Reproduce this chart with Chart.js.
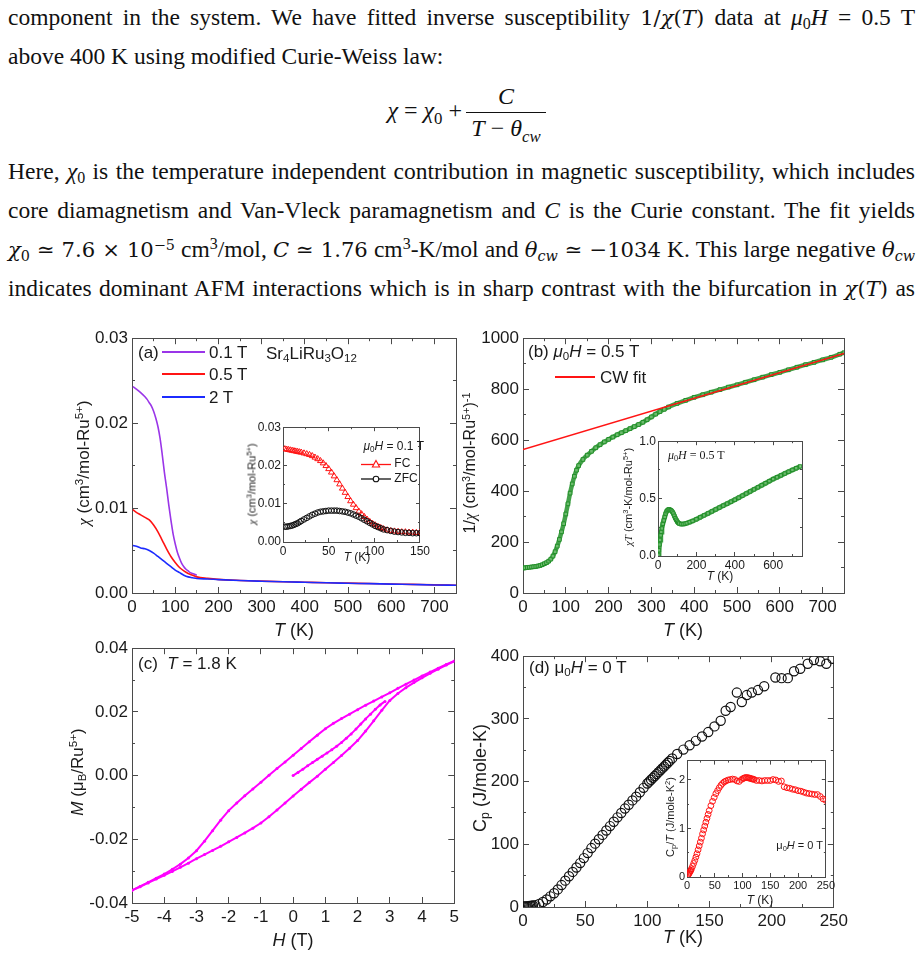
<!DOCTYPE html>
<html>
<head>
<meta charset="utf-8">
<script src="https://cdn.jsdelivr.net/npm/chart.js@4.4.0/dist/chart.umd.min.js"></script>
<style>
body { margin: 0; background: #fff; width: 922px; height: 954px; position: relative; overflow: hidden; color: #222; font-family: "Liberation Sans", Arial, sans-serif; }
.tx { position: absolute; left: 8px; width: 907px; height: 28px; font-family: "Liberation Serif", "Times New Roman", serif; font-size: 23.5px; line-height: 28px; white-space: nowrap; text-align: justify; text-align-last: justify; color: #111; }
.tx.l { text-align: left; text-align-last: left; }
.cm { font-family: "DejaVu Serif", serif; font-size: 0.9em; }
.tx sup, .lb sup { font-size: 0.68em; vertical-align: 0.5em; line-height: 0; }
.tx sub, .lb sub { font-size: 0.68em; vertical-align: -0.28em; line-height: 0; }
.eq { position: absolute; font-family: "Liberation Serif", serif; font-size: 24px; line-height: 1; color: #111; white-space: nowrap; }
canvas { position: absolute; }
.lb { position: absolute; white-space: nowrap; line-height: 1; color: #1a1a1a; }
.seg { position: absolute; }
.serif { font-family: "Liberation Serif", serif; }
</style>
</head>
<body>
<div class="tx" style="top:3px">component in the system. We have fitted inverse susceptibility <span class="cm">1/<i>χ</i>(<i>T</i>)</span> data at <i>μ</i><sub>0</sub><i>H</i> = 0.5 T</div>
<div class="tx l" style="top:42px">above 400 K using modified Curie-Weiss law:</div>
<div class="eq" style="left:462px;top:113px;transform:translate(-100%,-50%)"><i>χ</i> = <i>χ</i><sub style="font-size:0.7em">0</sub> + </div>
<div class="eq" style="left:506px;top:96px;transform:translate(-50%,-50%)"><i>C</i></div>
<div style="position:absolute;left:466px;top:112px;width:80px;border-top:1.4px solid #111"></div>
<div class="eq" style="left:506px;top:131px;transform:translate(-50%,-50%)"><i>T</i> − <i>θ</i><sub style="font-size:0.7em"><i>cw</i></sub></div>
<div class="tx" style="top:157px">Here, <i>χ</i><sub>0</sub> is the temperature independent contribution in magnetic susceptibility, which includes</div>
<div class="tx" style="top:196px">core diamagnetism and Van-Vleck paramagnetism and <i>C</i> is the Curie constant. The fit yields</div>
<div class="tx" style="top:235px"><span class="cm"><i>χ</i><sub>0</sub> ≃ 7.6 × 10<sup>−5</sup></span> cm<sup>3</sup>/mol, <span class="cm"><i>C</i> ≃ 1.76</span> cm<sup>3</sup>-K/mol and <span class="cm"><i>θ</i><sub><i>cw</i></sub> ≃ −1034</span> K. This large negative <span class="cm"><i>θ</i><sub><i>cw</i></sub></span></div>
<div class="tx" style="top:274px">indicates dominant AFM interactions which is in sharp contrast with the bifurcation in <span class="cm"><i>χ</i>(<i>T</i>)</span> as</div>

<script>
// (a) chi(T) at 0.1 T, 0.5 T, 2 T
const tA01 = [2,10,20,30,35,40,45,50,55,60,65,70,75,80,85,90,95,100,105,110,115,120,125,130,135,140,145,150];
const chiA01 = [0.0243,0.0240,0.0236,0.0231,0.0228,0.0224,0.0220,0.0214,0.0206,0.0196,0.0182,0.0163,0.0142,0.0124,0.0104,0.0086,0.0070,0.0058,0.0048,0.0041,0.0035,0.0031,0.0028,0.0026,0.0024,0.0023,0.0022,0.0021];
const tA05 = [2,10,20,30,40,50,60,70,80,90,100,110,120,130,140,150,175,200,250,300,350,400,450,500,550,600,650,700,750];
const chiA05 = [0.0098,0.0095,0.0092,0.0089,0.0086,0.0080,0.0072,0.0062,0.0052,0.0043,0.0036,0.0030,0.0026,0.0023,0.0021,0.0019,0.00172,0.00160,0.00148,0.00140,0.00133,0.00127,0.00121,0.00116,0.00111,0.00106,0.00101,0.00096,0.00092];
const tA2 = [2,10,20,30,40,50,60,70,80,90,100,110,120,130,140,150,175,200,250,300,350,400,450,500,550,600,650,700,750];
const chiA2 = [0.0056,0.0055,0.0053,0.0052,0.0050,0.0047,0.0043,0.0039,0.0035,0.0031,0.0027,0.0024,0.0021,0.0019,0.0018,0.0017,0.00165,0.00158,0.00147,0.00139,0.00132,0.00126,0.00120,0.00115,0.00110,0.00105,0.00100,0.00095,0.00091];

// (a) inset: FC / ZFC at 0.1 T
const tInA = [2,4,6,8,10,12,14,16,18,20,23,26,29,32,35,38,41,44,47,50,53,56,59,62,65,68,71,74,77,80,83,86,89,92,95,98,101,104,107,110,114,118,122,126,130,134,138,142,146,150];
const fcA = [0.0243,0.0242,0.0241,0.0240,0.0239,0.0238,0.0237,0.0236,0.0235,0.0234,0.0232,0.0230,0.0228,0.0225,0.0221,0.0217,0.0212,0.0206,0.0199,0.0191,0.0182,0.0172,0.0162,0.0151,0.0140,0.0129,0.0118,0.0107,0.0098,0.0089,0.0080,0.0073,0.0066,0.0059,0.0053,0.0048,0.0044,0.0040,0.0037,0.0034,0.0031,0.0029,0.0028,0.0027,0.0026,0.0026,0.0025,0.0025,0.0024,0.0024];
const zfcA = [0.0040,0.0040,0.0041,0.0042,0.0043,0.0045,0.0047,0.0049,0.0052,0.0055,0.0059,0.0063,0.0067,0.0071,0.0074,0.0077,0.0079,0.0080,0.0081,0.0082,0.0082,0.0082,0.0082,0.0081,0.0080,0.0079,0.0077,0.0075,0.0072,0.0069,0.0066,0.0062,0.0058,0.0054,0.0050,0.0046,0.0042,0.0039,0.0036,0.0033,0.0031,0.0029,0.0027,0.0026,0.0025,0.0024,0.0024,0.0023,0.0023,0.0023];

// (b) 1/chi at 0.5 T and Curie-Weiss fit
const tB = [2,5,10,15,20,25,30,35,40,45,50,55,60,65,70,75,80,85,90,95,100,105,110,115,120,125,130,140,150,160,170,180,190,200,210,220,230,240,250,260,270,280,290,300,310,320,330,340,360,380,400,420,440,460,480,500,520,540,560,580,600,620,640,660,680,700,720,740,750];
const invB = [98,99,100,101,102,103,104,106,108,111,115,119,125,133,145,162,184,210,240,272,310,350,392,428,458,482,500,524,541,556,570,582,593,603,612,621,629,637,645,653,661,670,680,691,702,712,721,730,744,756,768,778,788,798,808,817,827,837,847,857,866,876,886,896,905,915,925,937,943];
const tCW = [0, 750];
const invCW = [563, 940];

// (b) inset: chi*T
const tBi = [2,5,8,11,14,17,20,25,30,35,40,45,50,55,60,65,70,75,80,85,90,95,100,105,110,120,130,140,150,165,180,200,220,240,260,280,300,320,340,360,380,400,420,440,460,480,500,520,540,560,580,600,620,640,660,680,700,720,740];
const chiTBi = [0.01,0.05,0.10,0.14,0.18,0.21,0.24,0.28,0.31,0.34,0.37,0.39,0.40,0.405,0.405,0.40,0.395,0.385,0.37,0.35,0.33,0.315,0.30,0.29,0.283,0.278,0.278,0.281,0.286,0.295,0.305,0.32,0.337,0.354,0.371,0.388,0.405,0.422,0.439,0.456,0.473,0.49,0.508,0.526,0.544,0.562,0.58,0.598,0.616,0.634,0.652,0.67,0.686,0.702,0.718,0.734,0.75,0.765,0.78];

// (c) M(H) at 1.8 K
const hUp = [5,4.75,4.5,4.25,4,3.75,3.5,3.25,3,2.75,2.5,2.25,2,1.75,1.5,1.25,1,0.75,0.5,0.25,0,-0.25,-0.5,-0.75,-1,-1.25,-1.5,-1.75,-2,-2.25,-2.5,-2.75,-3,-3.25,-3.5,-3.75,-4,-4.25,-4.5,-4.75,-5];
const mUp = [0.0360,0.0349,0.0337,0.0325,0.0313,0.0300,0.0287,0.0274,0.0260,0.0247,0.0234,0.0221,0.0207,0.0193,0.0179,0.0164,0.0147,0.0127,0.0106,0.0085,0.0064,0.0043,0.0022,0.0001,-0.0021,-0.0042,-0.0063,-0.0086,-0.0110,-0.0140,-0.0173,-0.0206,-0.0236,-0.0259,-0.0278,-0.0294,-0.0309,-0.0322,-0.0335,-0.0348,-0.0360];
const hLo = [-5,-4.75,-4.5,-4.25,-4,-3.75,-3.5,-3.25,-3,-2.75,-2.5,-2.25,-2,-1.75,-1.5,-1.25,-1,-0.75,-0.5,-0.25,0,0.25,0.5,0.75,1,1.25,1.5,1.75,2,2.25,2.5,2.75,3,3.25,3.5,3.75,4,4.25,4.5,4.75,5];
const mLo = [-0.0360,-0.0349,-0.0337,-0.0325,-0.0313,-0.0301,-0.0288,-0.0275,-0.0261,-0.0248,-0.0235,-0.0222,-0.0208,-0.0194,-0.0180,-0.0165,-0.0149,-0.0129,-0.0108,-0.0086,-0.0064,-0.0043,-0.0022,-0.0002,0.0020,0.0041,0.0063,0.0086,0.0110,0.0140,0.0172,0.0205,0.0236,0.0258,0.0276,0.0292,0.0307,0.0321,0.0334,0.0347,0.0359];
const hVir = [0,0.15,0.3,0.45,0.6,0.75,0.9,1.05,1.2,1.35,1.5,1.65,1.8,1.95,2.1,2.25,2.4,2.55,2.7,2.85];
const mVir = [0,0.0010,0.0020,0.0031,0.0041,0.0051,0.0061,0.0071,0.0081,0.0092,0.0104,0.0117,0.0131,0.0146,0.0162,0.0178,0.0193,0.0208,0.0222,0.0233];

// (d) Cp(T) at 0 T
const tD = [1,2,3,4,5,6,7,8,10,13,16,19,22,25,28,31,34,37,40,43,46,49,52,55,58,61,64,67,70,73,76,79,82,85,88,91,94,97,100,101.5,103,104.5,106,107.5,109,110.5,112,113.5,115,116.5,118,120,124,129,134,139,144,149,154,159,163,167,172,176,180,184,189,194,203,208,213,218,223,229,234,239,244,249];
const cpD = [1,1,1,1,1.5,1.5,2,2.5,3,5,8,12,17,22,28,35,42,49,56,63,70,78,86,94,101,108,115,122,129,136,143,150,157,163,170,176,183,190,197,200,203,206,209,212,215,218,221,224,227,230,233,237,244,251,258,265,272,279,288,297,313,319,342,327,338,342,346,352,366,365,365,376,380,388,394,392,388,396];

// (d) inset: Cp/T
const tDi = [2,3,4,5,6,7,8,10,12,14,16,18,20,22,24,26,28,30,32,34,36,38,40,43,46,49,52,55,58,61,64,67,70,74,78,82,86,90,94,98,101,103,105,107,109,111,113,115,117,119,121,125,130,135,140,145,150,155,160,165,170,175,180,185,190,195,200,205,210,215,220,225,230,235,240,245,250];
const cpTDi = [0.04,0.06,0.08,0.10,0.12,0.14,0.17,0.22,0.28,0.34,0.41,0.48,0.56,0.64,0.72,0.80,0.89,0.97,1.05,1.13,1.21,1.29,1.37,1.47,1.56,1.64,1.72,1.78,1.84,1.89,1.93,1.96,1.98,2.00,2.01,2.02,2.01,1.98,1.97,2.01,2.03,2.04,2.05,2.05,2.05,2.04,2.04,2.03,2.02,2.02,2.01,1.99,1.99,1.98,1.99,1.99,1.99,2.01,2.00,1.97,1.98,1.86,1.84,1.83,1.81,1.80,1.78,1.77,1.75,1.73,1.72,1.71,1.70,1.70,1.66,1.61,1.58];

const PURPLE = '#9a35e8', RED = '#ff1414', BLUE = '#1c2bff', GREEN = '#23902a', MAGENTA = '#ff00ff';
const FRAME = '#4a4a4a', INK = '#1a1a1a';
const SANS = '"Liberation Sans", Arial, sans-serif';

function pts(xs, ys) { return xs.map((x, i) => ({x: x, y: ys[i]})); }

function axis(pos, min, max, step, len, o) {
  const horiz = pos === 'bottom' || pos === 'top';
  return {
    type: 'linear', position: pos, min: min, max: max, weight: o.fmt ? 0 : -1,
    grid: {drawOnChartArea: false, drawTicks: true, tickLength: -len, tickColor: FRAME, tickWidth: 1},
    border: {display: true, color: FRAME, width: 1},
    ticks: {
      display: !!o.fmt, stepSize: step, includeBounds: false, autoSkip: false,
      maxRotation: 0, minRotation: 0, padding: len + (o.gap || 3),
      color: INK, font: {family: SANS, size: o.size || 12},
      callback: o.fmt || (v => v)
    },
    afterFit: s => { if (horiz) s.height = o.room || 0; else s.width = o.room || 0; }
  };
}

function frameScales(xr, yr, st) {
  const s = {};
  s.x = axis('bottom', xr.min, xr.max, xr.major, st.major, {fmt: xr.fmt, size: st.size, room: st.mb, gap: st.gap});
  s.y = axis('left', yr.min, yr.max, yr.major, st.major, {fmt: yr.fmt, size: st.size, room: st.ml, gap: st.gap});
  s.xt = axis('top', xr.min, xr.max, xr.major, st.major, {});
  s.yr = axis('right', yr.min, yr.max, yr.major, st.major, {});
  if (xr.minor) {
    s.xm = axis('bottom', xr.min, xr.max, xr.minor, st.minor, {});
    s.xtm = axis('top', xr.min, xr.max, xr.minor, st.minor, {});
  }
  if (yr.minor) {
    s.ym = axis('left', yr.min, yr.max, yr.minor, st.minor, {});
    s.yrm = axis('right', yr.min, yr.max, yr.minor, st.minor, {});
  }
  return s;
}

const whiteArea = {
  id: 'whiteArea',
  beforeDraw(ch) {
    const a = ch.chartArea, ctx = ch.ctx;
    ctx.save(); ctx.fillStyle = '#fff';
    ctx.fillRect(a.left, a.top, a.right - a.left, a.bottom - a.top);
    ctx.restore();
  }
};

// area = [left, top, width, height] of the plot box; m = [left, top, right, bottom] room around it
function plot(area, m, scales, datasets, inset) {
  const c = document.createElement('canvas');
  document.body.appendChild(c);
  const w = area[2] + m[0] + m[2], h = area[3] + m[1] + m[3];
  c.width = w; c.height = h;
  c.style.left = (area[0] - m[0]) + 'px'; c.style.top = (area[1] - m[1]) + 'px';
  c.style.width = w + 'px'; c.style.height = h + 'px';
  datasets.forEach(d => { d.xAxisID = 'x'; d.yAxisID = 'y'; });
  return new Chart(c, {
    type: 'scatter',
    data: {datasets: datasets},
    options: {
      responsive: false, animation: false, devicePixelRatio: 1, events: [],
      layout: {padding: {left: 0, top: m[1], right: m[2], bottom: 0}},
      plugins: {legend: {display: false}, tooltip: {enabled: false}},
      scales: scales
    },
    plugins: inset ? [whiteArea] : []
  });
}

const MAIN = {major: 6, minor: 3, size: 17, gap: 4, ml: 52, mb: 36};
const INS = {major: 4, minor: 2, size: 12, gap: 2, ml: 32, mb: 20};
const INSD = {major: 4, minor: 2, size: 11, gap: 2, ml: 28, mb: 18};
const f2 = v => v.toFixed(2), f1 = v => v.toFixed(1), f0 = v => String(Math.round(v));

const curve = (xs, ys, col) => ({data: pts(xs, ys), showLine: true, borderColor: col, borderWidth: 1.6,
  pointRadius: 0, cubicInterpolationMode: 'monotone'});

// (a)
plot([132, 332, 324, 261], [52, 14, 14, 36],
  frameScales({min: 0, max: 750, major: 100, minor: 50, fmt: f0},
              {min: 0, max: 0.03, major: 0.01, minor: 0.005, fmt: f2}, MAIN),
  [curve(tA2, chiA2, BLUE), curve(tA05, chiA05, RED), curve(tA01, chiA01, PURPLE)]);

// (a) inset
plot([283, 424, 143, 118], [32, 10, 10, 20],
  frameScales({min: 0, max: 150, major: 50, minor: 25, fmt: f0},
              {min: 0, max: 0.03, major: 0.01, minor: 0.005, fmt: f2}, INS),
  [{data: pts(tInA, zfcA), pointStyle: 'circle', pointRadius: 2.8, pointBorderWidth: 1,
    pointBorderColor: '#111', pointBackgroundColor: 'rgba(255,255,255,0)'},
   {data: pts(tInA, fcA), pointStyle: 'triangle', pointRadius: 3.4, pointBorderWidth: 1,
    pointBorderColor: RED, pointBackgroundColor: 'rgba(255,255,255,0)'}], true);

// (b)
plot([523, 332, 321, 261], [52, 14, 14, 36],
  frameScales({min: 0, max: 750, major: 100, minor: 50, fmt: f0},
              {min: 0, max: 1000, major: 200, minor: 100, fmt: f0}, MAIN),
  [{data: pts(tCW, invCW), showLine: true, borderColor: RED, borderWidth: 1.5, pointRadius: 0},
   {data: pts(tB, invB), showLine: true, borderColor: 'rgba(35,144,42,0.85)', borderWidth: 4.5, cubicInterpolationMode: 'monotone',
    pointStyle: 'rect', pointRadius: 2.6, pointBorderWidth: 1, pointBorderColor: GREEN,
    pointBackgroundColor: 'rgba(120,195,120,0.8)'}]);

// (b) inset
plot([658, 438, 144, 118], [32, 10, 10, 20],
  frameScales({min: 0, max: 750, major: 200, minor: 100, fmt: f0},
              {min: 0, max: 1.0, major: 0.5, minor: 0.25, fmt: f1}, INS),
  [{data: pts(tBi, chiTBi), showLine: true, borderColor: 'rgba(35,144,42,0.85)', borderWidth: 5,
    pointStyle: 'rect', pointRadius: 2.4, pointBorderWidth: 1, pointBorderColor: GREEN,
    pointBackgroundColor: 'rgba(120,195,120,0.8)'}], true);

// (c)
const loop = (xs, ys) => ({data: pts(xs, ys), showLine: true, borderColor: MAGENTA, borderWidth: 2,
  pointRadius: 1.5, pointBorderWidth: 0, pointBackgroundColor: MAGENTA});
plot([132, 642, 323, 261], [52, 14, 14, 36],
  frameScales({min: -5, max: 5, major: 1, fmt: f0},
              {min: -0.04, max: 0.04, major: 0.02, minor: 0.01, fmt: f2}, MAIN),
  [loop(hUp, mUp), loop(hLo, mLo), loop(hVir, mVir)]);

// (d)
plot([523, 650, 321, 257], [52, 14, 14, 36],
  frameScales({min: 0, max: 250, major: 50, minor: 25, fmt: f0},
              {min: 0, max: 400, major: 100, minor: 50, fmt: f0}, MAIN),
  [{data: pts(tD, cpD), pointStyle: 'circle', pointRadius: 4.6, pointBorderWidth: 1.2,
    pointBorderColor: '#111', pointBackgroundColor: 'rgba(255,255,255,0)'}]);

// (d) inset
plot([687, 758, 144, 119], [28, 10, 10, 18],
  frameScales({min: 0, max: 250, major: 50, minor: 25, fmt: f0},
              {min: 0, max: 2.4, major: 1, minor: 0.5, fmt: f0}, INSD),
  [{data: pts(tDi, cpTDi), pointStyle: 'circle', pointRadius: 2.9, pointBorderWidth: 1,
    pointBorderColor: RED, pointBackgroundColor: 'rgba(255,255,255,0)'}], true);

// text labels, legends and axis titles
function lab(html, x, y, size, anchor, cls) {
  const d = document.createElement('div');
  d.className = 'lb' + (cls ? ' ' + cls : '');
  d.innerHTML = html;
  d.style.left = x + 'px'; d.style.top = y + 'px'; d.style.fontSize = size + 'px';
  const tx = anchor === 'c' ? '-50%' : anchor === 'r' ? '-100%' : '0';
  d.style.transform = anchor === 'rot' ? 'translate(-50%,-50%) rotate(-90deg)' : 'translate(' + tx + ',-50%)';
  document.body.appendChild(d);
}
function seg(x1, x2, y, col, w) {
  const d = document.createElement('div');
  const h = w || 2;
  d.className = 'seg';
  d.style.left = x1 + 'px'; d.style.top = (y - h / 2) + 'px';
  d.style.width = (x2 - x1) + 'px'; d.style.height = h + 'px';
  d.style.background = col;
  document.body.appendChild(d);
}
const chi = '<span class="serif"><i>χ</i></span>';
const mu0H = '<i>μ</i><sub>0</sub><i>H</i>';

// (a)
lab('(a)', 138, 352, 17, 'l');
seg(162, 205, 352, PURPLE); lab('0.1 T', 209, 352, 17, 'l');
lab('Sr<sub>4</sub>LiRu<sub>3</sub>O<sub>12</sub>', 266, 353, 17, 'l');
seg(162, 205, 374, RED); lab('0.5 T', 209, 374, 17, 'l');
seg(162, 205, 397, BLUE); lab('2 T', 209, 397, 17, 'l');
lab(chi + ' (cm<sup>3</sup>/mol-Ru<sup>5+</sup>)', 83, 463, 17, 'rot');
lab('<i>T</i> (K)', 294, 630, 18, 'c');
lab(chi + ' (cm<sup>3</sup>/mol-Ru<sup>5+</sup>)', 252, 484, 11, 'rot');
lab('<i>T</i> (K)', 357, 557, 12, 'c');
lab(mu0H + ' = 0.1 T', 424, 446, 12, 'r');
lab('<svg width="30" height="10" style="vertical-align:middle"><line x1="0" y1="5.5" x2="30" y2="5.5" stroke="' + RED + '" stroke-width="1.3"/><polygon points="15,1.5 18.6,8 11.4,8" fill="#fff" stroke="' + RED + '" stroke-width="1.1"/></svg> FC', 361, 463, 12, 'l');
lab('<svg width="30" height="10" style="vertical-align:middle"><line x1="0" y1="5" x2="30" y2="5" stroke="#111" stroke-width="1.3"/><circle cx="15" cy="5" r="2.8" fill="#fff" stroke="#111" stroke-width="1.1"/></svg> ZFC', 361, 478, 12, 'l');

// (b)
lab('(b) ' + mu0H + ' = 0.5 T', 528, 351, 17, 'l');
seg(555, 595, 377, RED, 1.6); lab('CW fit', 600, 377, 17, 'l');
lab('1/' + chi + ' (cm<sup>3</sup>/mol-Ru<sup>5+</sup>)<sup>-1</sup>', 470, 463, 16, 'rot');
lab('<i>T</i> (K)', 683, 630, 18, 'c');
lab(mu0H + ' = 0.5 T', 668, 455, 12, 'l', 'serif');
lab('<span class="serif"><i>χT</i></span> (cm<sup>3</sup>-K/mol-Ru<sup>5+</sup>)', 628, 497, 11, 'rot');
lab('<i>T</i> (K)', 720, 576, 12, 'c');

// (c)
lab('(c) &nbsp;<i>T</i> = 1.8 K', 138, 663, 17, 'l');
lab('<i>M</i> (μ<sub>B</sub>/Ru<sup>5+</sup>)', 77, 772, 17, 'rot');
lab('<i>H</i> (T)', 293, 940, 18, 'c');

// (d)
lab('(d) μ<sub>0</sub><i>H</i> = 0 T', 529, 667, 17, 'l');
lab('C<sub>p</sub> (J/mole-K)', 480, 778, 18, 'rot');
lab('<i>T</i> (K)', 683, 937, 18, 'c');
lab('μ<sub>0</sub><i>H</i> = 0 T', 823, 845, 11, 'r');
lab('C<sub>p</sub>/<i>T</i> (J/mole-K<sup>2</sup>)', 670, 817, 11, 'rot');
lab('<i>T</i> (K)', 760, 900, 12, 'c');
</script>
</body>
</html>
